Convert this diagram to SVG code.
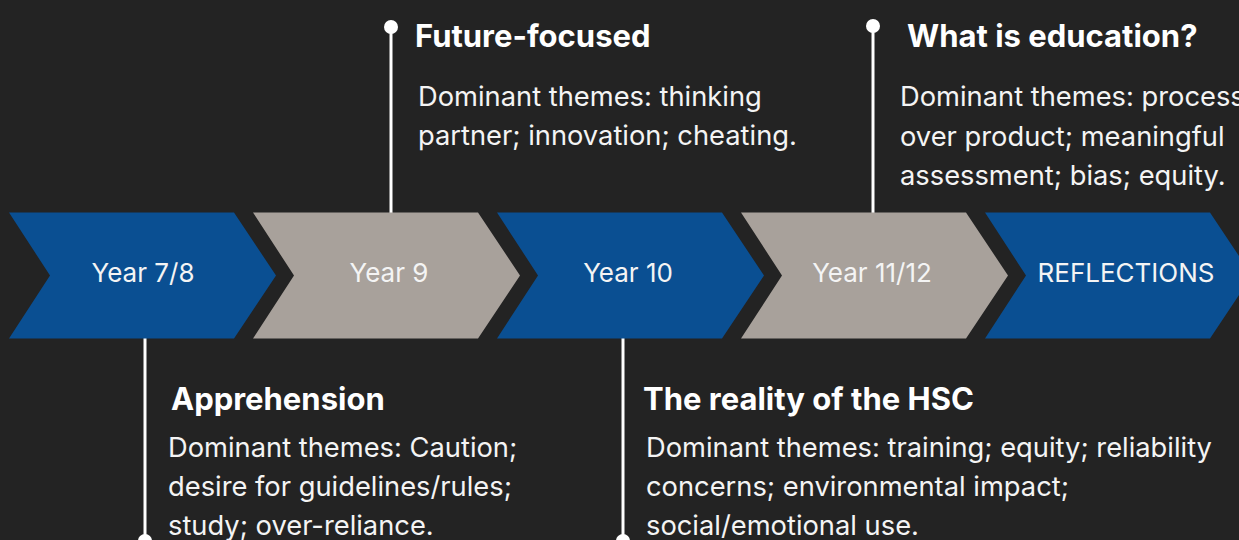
<svg xmlns="http://www.w3.org/2000/svg" width="1239" height="540" viewBox="0 0 1239 540">
<style>
.bg{fill:#232323}
.blue{fill:#0a4f92}
.gray{fill:#a8a19b}
.lbl{font-family:Inter,"Liberation Sans",sans-serif;font-size:26px;fill:#f4f4f4;text-anchor:middle}
.hd{font-family:Inter,"Liberation Sans",sans-serif;font-size:31px;font-weight:700;fill:#ffffff}
.bd{font-family:Inter,"Liberation Sans",sans-serif;font-size:27.3px;fill:#f4f4f4}
.pin{stroke:#ffffff;stroke-width:3;fill:none}
.dot{fill:#ffffff}
</style>
<rect class="bg" x="0" y="0" width="1239" height="540"/>
<g id="connectors">
<line class="pin" x1="391" y1="27" x2="391" y2="213"/>
<circle class="dot" cx="391" cy="27" r="7"/>
<line class="pin" x1="873" y1="26" x2="873" y2="213"/>
<circle class="dot" cx="873" cy="26" r="7"/>
<line class="pin" x1="145" y1="338" x2="145" y2="541"/>
<circle class="dot" cx="145" cy="541" r="7"/>
<line class="pin" x1="623" y1="338" x2="623" y2="541"/>
<circle class="dot" cx="623" cy="541" r="7"/>
</g>
<g id="year78">
<polygon class="blue" points="9,212.5 234,212.5 276,275.5 234,338.5 9,338.5 50,275.5"/>
<text class="lbl" x="143" y="282">Year 7/8</text>
</g>
<g id="year9">
<polygon class="gray" points="253,212.5 478,212.5 520,275.5 478,338.5 253,338.5 294,275.5"/>
<text class="lbl" x="389" y="282">Year 9</text>
</g>
<g id="year10">
<polygon class="blue" points="497,212.5 722,212.5 764,275.5 722,338.5 497,338.5 538,275.5"/>
<text class="lbl" x="628" y="282">Year 10</text>
</g>
<g id="year1112">
<polygon class="gray" points="741,212.5 966,212.5 1008,275.5 966,338.5 741,338.5 782,275.5"/>
<text class="lbl" x="872" y="282">Year 11/12</text>
</g>
<g id="reflections">
<polygon class="blue" points="985,212.5 1210,212.5 1252,275.5 1210,338.5 985,338.5 1026,275.5"/>
<text class="lbl" x="1126" y="282">REFLECTIONS</text>
</g>
<g id="future-focused">
<text class="hd" x="415" y="47">Future-focused</text>
<text class="bd" x="418" y="106">Dominant themes: thinking</text>
<text class="bd" x="418" y="145">partner; innovation; cheating.</text>
</g>
<g id="what-is-education">
<text class="hd" x="907" y="47">What is education?</text>
<text class="bd" x="900" y="106">Dominant themes: process</text>
<text class="bd" x="900" y="146">over product; meaningful</text>
<text class="bd" x="900" y="185">assessment; bias; equity.</text>
</g>
<g id="apprehension">
<text class="hd" x="171" y="410">Apprehension</text>
<text class="bd" x="168" y="457">Dominant themes: Caution;</text>
<text class="bd" x="168" y="496">desire for guidelines/rules;</text>
<text class="bd" x="168" y="535">study; over-reliance.</text>
</g>
<g id="hsc">
<text class="hd" x="643" y="410">The reality of the HSC</text>
<text class="bd" x="646" y="457">Dominant themes: training; equity; reliability</text>
<text class="bd" x="646" y="496">concerns; environmental impact;</text>
<text class="bd" x="646" y="535">social/emotional use.</text>
</g>
</svg>
